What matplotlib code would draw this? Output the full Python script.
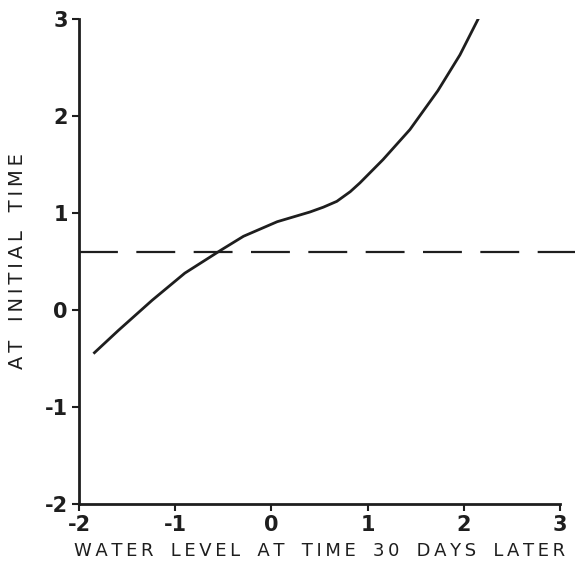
import numpy as np
import matplotlib.pyplot as plt

# water level 30 days later vs. water level at initial time
x_later = [-1.85, -1.59, -1.24, -0.90, -0.52, -0.29, 0.06, 0.40, 0.54,
           0.68, 0.82, 0.92, 1.16, 1.44, 1.73, 1.96, 2.18]
y_initial = [-0.45, -0.21, 0.10, 0.38, 0.62, 0.76, 0.91, 1.01, 1.06,
             1.12, 1.22, 1.31, 1.55, 1.86, 2.26, 2.63, 3.06]
threshold = 0.60

ticks = [-2, -1, 0, 1, 2, 3]
ink = "#1e1e1e"

plt.rcParams['font.family'] = ['DejaVu Sans']


def spaced(s):
    # wide lettering: thin space between letters, wider gap between words
    return '   '.join('\u2009'.join(w) for w in s.split(' '))


fig = plt.figure(figsize=(5.75, 5.72), dpi=100)
ax = fig.add_axes([0.1374, 0.1189, 0.8365, 0.8479])

ax.plot(x_later, y_initial, color=ink, lw=2.0, solid_joinstyle='round',
        solid_capstyle='butt')
ax.plot([-2, 3.16], [threshold, threshold], color=ink, lw=1.6,
        dashes=(17.5, 8.3), clip_on=False)

ax.set_xlim(-2, 3)
ax.set_ylim(-2, 3)
ax.set_xticks(ticks)
ax.set_yticks(ticks)
ax.set_xticklabels([str(t) for t in ticks])
ax.set_yticklabels([str(t) for t in ticks])

for side in ['top', 'right']:
    ax.spines[side].set_visible(False)
for side in ['left', 'bottom']:
    ax.spines[side].set_linewidth(2.0)
    ax.spines[side].set_color(ink)

ax.tick_params(axis='both', direction='out', length=5, width=1.5,
               colors=ink, labelsize=15, pad=3)
for lab in ax.get_xticklabels() + ax.get_yticklabels():
    lab.set_fontweight('bold')

ax.set_xlabel(spaced('WATER LEVEL AT TIME 30 DAYS LATER'),
              fontsize=13, color=ink, labelpad=5)
ax.set_ylabel(spaced('AT INITIAL TIME'),
              fontsize=14, color=ink, labelpad=13)

fig.savefig('out.png', dpi=100)
